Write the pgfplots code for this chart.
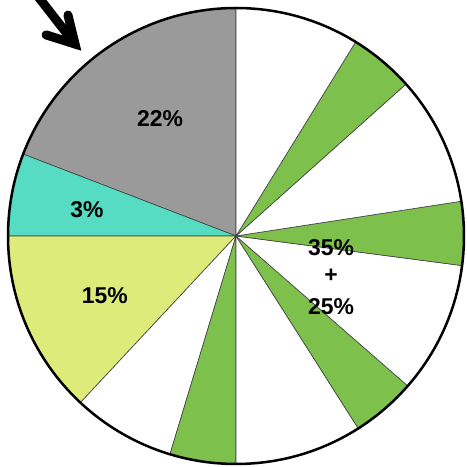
\documentclass[border=0pt]{standalone}
\usepackage{pgfplots}
\pgfplotsset{compat=1.18}
\usepackage{fontspec}
\setmainfont{Liberation Sans}

\definecolor{pgray}{HTML}{9A9A9A}
\definecolor{pteal}{HTML}{55DCC2}
\definecolor{pyel}{HTML}{DDEB7A}
\definecolor{pgreen}{HTML}{7DC04C}

% slice boundaries in degrees, radius 1 axis unit = 228bp
\newcommand{\slice}[3]{%
  \filldraw[fill=#3, draw=black!75, line width=0.6bp]
    (axis cs:0,0) -- ++(#1:228bp) arc[start angle=#1, end angle=#2, radius=228bp] -- cycle;}

\begin{document}
\begin{tikzpicture}
\begin{axis}[
    x=228bp, y=228bp,
    xmin=-1.0351, xmax=1.0132,
    ymin=-1.0132, ymax=1.0351,
    hide axis,
    clip=true,
    nodes={font=\fontsize{23}{26}\selectfont\bfseries},
]
% keep the whole axis area as the picture
\path (axis cs:-1.0351,-1.0132) rectangle (axis cs:1.0132,1.0351);

\slice{90}{158.95}{pgray}
\slice{158.95}{180}{pteal}
\slice{180}{226.96}{pyel}
\slice{226.96}{253.16}{white}
\slice{253.16}{270}{pgreen}
\slice{270}{302.43}{white}
\slice{302.43}{318.89}{pgreen}
\slice{318.89}{352.54}{white}
\slice{352.54}{368.77}{pgreen}
\slice{8.77}{41.78}{white}
\slice{41.78}{58.34}{pgreen}
\slice{58.34}{90}{white}

\draw[black, line width=2.5bp] (axis cs:0,0) circle[radius=1];

\node at (axis cs:-0.333,0.513) {22\%};
\node at (axis cs:-0.654,0.114) {3\%};
\node at (axis cs:-0.575,-0.263) {15\%};
\node at (axis cs:0.417,-0.053) {35\%};
\node at (axis cs:0.417,-0.175) {+};
\node at (axis cs:0.417,-0.311) {25\%};

% arrow pointing at the grey slice
\draw[overlay, black, line width=9bp, line cap=round]
    (axis cs:-0.908,1.101) -- (axis cs:-0.706,0.842);
\draw[overlay, black, line width=9bp, line cap=round, line join=miter]
    (axis cs:-0.737,0.969) -- (axis cs:-0.706,0.842) -- (axis cs:-0.833,0.882);
\end{axis}
\end{tikzpicture}
\end{document}
